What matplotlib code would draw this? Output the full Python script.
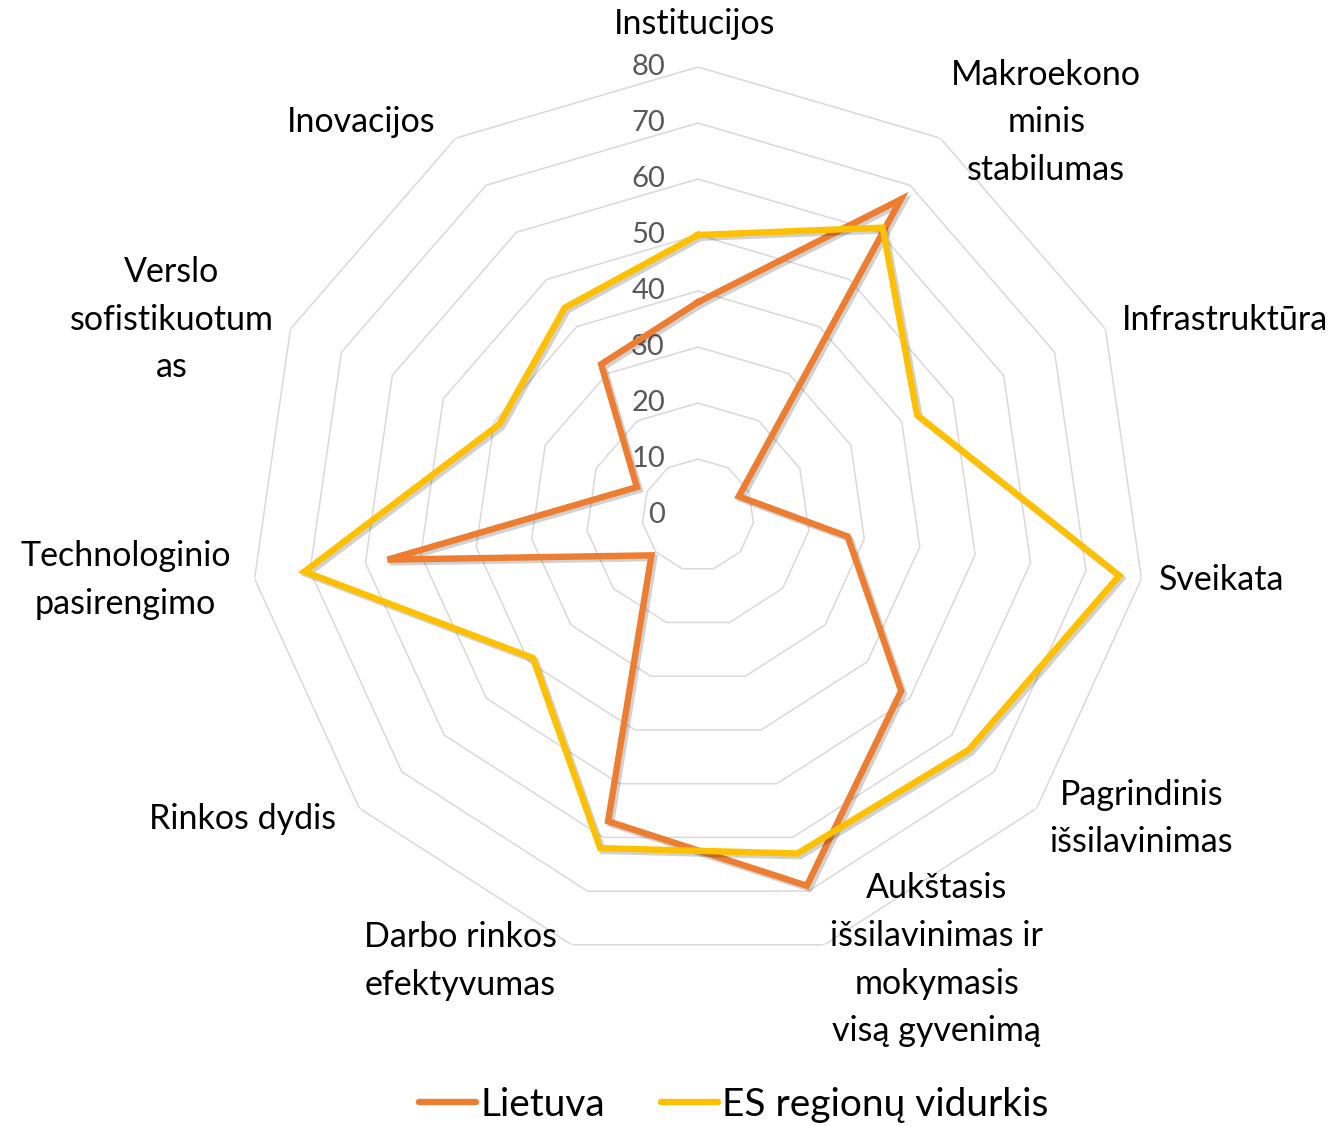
import numpy as np
import matplotlib
matplotlib.use("Agg")
import matplotlib.pyplot as plt
import matplotlib.patheffects as pe

categories = [
    "Institucijos",
    "Makroekono\nminis\nstabilumas",
    "Infrastruktūra",
    "Sveikata",
    "Pagrindinis\nišsilavinimas",
    "Aukštasis\nišsilavinimas ir\nmokymasis\nvisą gyvenimą",
    "Darbo rinkos\nefektyvumas",
    "Rinkos dydis",
    "Technologinio\npasirengimo",
    "Verslo\nsofistikuotum\nas",
    "Inovacijos",
]
lietuva = [38, 67, 8, 27, 48, 69, 57, 11, 56, 12, 32]
es_vidurkis = [50, 61, 43, 76, 64, 63, 62, 39, 71, 39, 44]
series_names = ["Lietuva", "ES regionų vidurkis"]
ticks = [0, 10, 20, 30, 40, 50, 60, 70, 80]

plt.rcParams['font.family'] = ['Lato', 'DejaVu Sans']

W, H = 1337, 1126
fig = plt.figure(figsize=(W / 100, H / 100), dpi=100)
cx, cy, R = 698, 515, 448
ax = fig.add_axes([(cx - R) / W, (H - cy - R) / H, 2 * R / W, 2 * R / H], projection='polar')
ax.set_theta_zero_location('N')
ax.set_theta_direction(-1)
ax.set_ylim(0, 80)
ax.grid(False)
ax.set_xticks([])
ax.set_yticks([])
ax.spines['polar'].set_visible(False)

n = len(categories)
ang = np.arange(n) * 2 * np.pi / n
ang_c = np.append(ang, ang[0])

for v in ticks[1:]:
    ax.plot(ang_c, [v] * (n + 1), color='#d9d9d9', lw=1.1, zorder=1)

for t in ticks:
    ax.annotate(str(t), xy=(0, t), xytext=(-33, 0), textcoords='offset pixels',
                ha='right', va='center', fontsize=21, color='#595959', zorder=2)

shadow = [pe.SimpleLineShadow(offset=(2, -2), shadow_color='black', alpha=0.18), pe.Normal()]
ax.plot(ang_c, lietuva + [lietuva[0]], color='#ED7D31', lw=4.6, zorder=3,
        solid_joinstyle='miter', label=series_names[0], path_effects=shadow)
ax.plot(ang_c, es_vidurkis + [es_vidurkis[0]], color='#FFC000', lw=4.6, zorder=4,
        solid_joinstyle='miter', label=series_names[1], path_effects=shadow)

label_fmt = [
    ('center', -3, 43),
    ('left', 11, 16),
    ('left', 16, 9),
    ('left', 17, -1),
    ('left', 13, -10),
    ('left', 6, -15),
    ('right', -15, -16),
    ('right', -23, -11),
    ('right', -24, -1),
    ('right', -17, 9),
    ('right', -20, 16),
]
for a, lab, (ha, dx, dy) in zip(ang, categories, label_fmt):
    ax.annotate(lab, xy=(a, 80), xytext=(dx, dy), textcoords='offset pixels',
                ha=ha, va='center', multialignment='center', fontsize=24.5,
                linespacing=1.6, color='black', annotation_clip=False)

leg = fig.legend(loc='center', bbox_to_anchor=(734 / W, 21 / H), ncol=2, frameon=False,
                 fontsize=28, handlelength=1.45, handletextpad=0.12, columnspacing=1.45)
for h in leg.get_lines():
    h.set_linewidth(4.6)
    h.set_path_effects([])
    h.set_solid_capstyle('round')

fig.savefig('out.png', dpi=100)
